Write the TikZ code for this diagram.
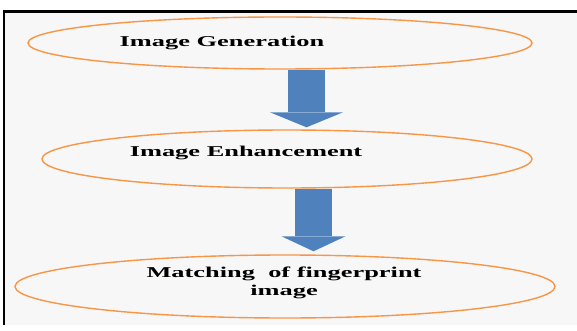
\documentclass[tikz,border=0pt]{standalone}
\usepackage{fontspec}
\setmainfont{Liberation Serif}
\usetikzlibrary{shapes.geometric,arrows.meta}
\definecolor{bgpanel}{HTML}{F7F7F7}
\definecolor{ringorange}{HTML}{F79646}
\definecolor{flowblue}{HTML}{4F81BD}
\begin{document}
\begin{tikzpicture}[x=1pt,y=-1pt]
    \tikzset{
      stage/.style={ellipse,draw=ringorange,line width=1.4pt,inner sep=0pt},
      stagetext/.style={font=\bfseries\fontsize{15}{18}\selectfont,xscale=1.76,align=center,inner sep=0pt}
    }
    \tikzset{
      flow/.style args={#1}{flowblue,line width=37pt,-{Triangle[width=#1,length=15pt,line width'=0pt]}}
    }
        \useasboundingbox (0,0) rectangle (577,331);
        %PANEL
        \fill[bgpanel] (4,11) rectangle (577,325);
        \draw[black,line width=2.5pt] (4,325) -- (4,11.5) -- (578,11.5);

        %STAGES
        \node[stage,minimum width=504pt,minimum height=52pt] (gen) at (280,43) {};
        \node[stage,minimum width=490pt,minimum height=58pt] (enh) at (287,159) {};
        \node[stage,minimum width=540pt,minimum height=63pt] (match) at (285,286.5) {};

        \node[stagetext,anchor=base] (gentxt) at (222,47) {Image Generation};
        \node[stagetext,anchor=base] (enhtxt) at (246,157) {Image Enhancement};
        \node[stagetext] (matchtxt) at (284,283) {Matching\ \ of fingerprint\\image};

        %ARROWS
        \draw[flow={73pt},shorten >=2pt] (gen.south -| 306.5,0) -- (enh.north -| 306.5,0);
        \draw[flow={64pt},shorten >=3pt] (enh.south -| 313.5,0) -- (match.north -| 313.5,0);
\end{tikzpicture}
\end{document}
